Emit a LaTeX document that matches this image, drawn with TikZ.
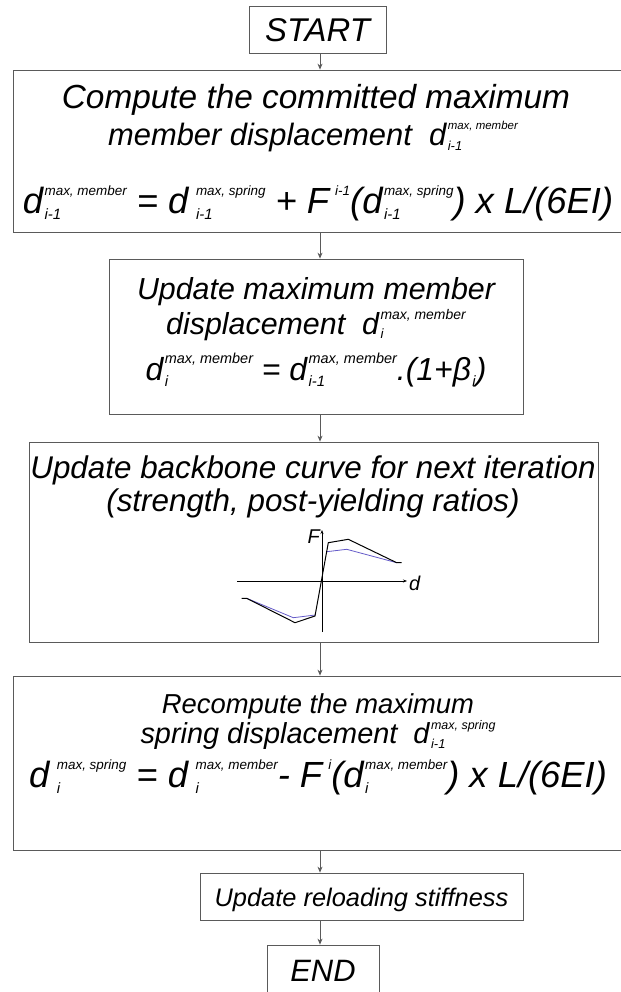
\documentclass[tikz,border=0pt]{standalone}
\usepackage{fontspec}
\setmainfont{Liberation Sans}
\usetikzlibrary{arrows.meta}
\definecolor{boxline}{RGB}{90,90,90}
\definecolor{curveblue}{RGB}{100,90,200}
\def\supf{\fontsize{11}{11}\selectfont}
\def\subf{\fontsize{13}{13}\selectfont}
\def\supr{15bp}
\def\subl{5bp}
\newcommand\setsc[4]{\def\supf{\fontsize{#1}{#1}\selectfont}\def\subf{\fontsize{#2}{#2}\selectfont}\def\supr{#3}\def\subl{#4}}
\newcommand\stk[2]{\leavevmode\hbox{\kern1.5bp\setbox0=\hbox{\supf #1}\setbox2=\hbox{\subf #2}\dimen0=\wd0 \ifdim\wd2>\dimen0 \dimen0=\wd2 \fi\rlap{\raise\supr\box0}\rlap{\lower\subl\box2}\kern\dimen0}}
\newcommand\sps[1]{\raise\supr\hbox{\supf #1}}
\newcommand\fs[1]{\fontsize{#1}{#1}\selectfont\itshape}
\tikzset{
  box/.style={draw=boxline, line width=0.8bp, rectangle, inner sep=0pt},
  txt/.style={anchor=base, inner sep=0pt},
  arr/.style={draw=boxline, line width=0.8bp, -{Stealth[length=6bp,width=5bp]}},
  axis/.style={draw=black, line width=0.7bp, -{Stealth[length=4bp,width=3bp]}},
}
\begin{document}
\begin{tikzpicture}[x=1bp,y=-1bp]
\useasboundingbox (0,0) rectangle (621,992);
\coordinate (col) at (320,0);
% boxes
\node[box, minimum width=137bp, minimum height=47bp] (start) at (317.5,29.5) {};
\node[box, minimum width=610bp, minimum height=162bp] (b1) at (318,151) {};
\node[box, minimum width=414bp, minimum height=155bp] (b2) at (316,336.5) {};
\node[box, minimum width=569bp, minimum height=200bp] (b3) at (313.5,542) {};
\node[box, minimum width=610bp, minimum height=174bp] (b4) at (318,763) {};
\node[box, minimum width=323bp, minimum height=47bp] (b5) at (361.5,896.5) {};
\node[box, minimum width=112bp, minimum height=50bp] (end) at (323,970) {};
% texts
\node[txt, font=\fs{33}] (tstart) at (317.5,41) {START};
\node[txt, font=\fs{33.5}] (t1a) at (316,108) {Compute the committed maximum};
\node[txt, font=\fs{31}] (t1b) at (313,145) {\setsc{11.5}{13}{16bp}{5bp}member displacement\ \ d\stk{max, member}{i-1}};
\node[txt, font=\fs{36.5}] (f1) at (318,213) {\setsc{13.5}{15}{18bp}{6.5bp}d\stk{max, member}{i-1} = d\,\stk{max, spring}{i-1} + F\,\sps{i-1}(d\stk{max, spring}{i-1}) x L/(6EI)};
\node[txt, font=\fs{30.5}] (t2a) at (316,299) {Update maximum member};
\node[txt, font=\fs{30.5}] (t2b) at (316,334) {\setsc{14}{13.5}{15bp}{4bp}displacement\ \ d\stk{max, member}{i}};
\node[txt, font=\fs{32}] (f2) at (316,380) {\setsc{14.5}{15}{17bp}{6bp}d\stk{max, member}{i} = d\stk{max, member}{i-1}.(1+β\stk{}{i})};
\node[txt, font=\fs{31.5}] (t3a) at (313,478) {Update backbone curve for next iteration};
\node[txt, font=\fs{31.5}] (t3b) at (313,511) {(strength, post-yielding ratios)};
\node[txt, font=\fs{27.5}] (t4a) at (318,713) {Recompute the maximum};
\node[txt, font=\fs{29}] (t4b) at (318,743) {\setsc{12.5}{13}{14bp}{5bp}spring displacement\ \ d\stk{max, spring}{i-1}};
\node[txt, font=\fs{36.5}] (f4) at (318,787) {\setsc{13.5}{15}{18bp}{6.5bp}d\,\stk{max, spring}{i} = d\,\stk{max, member}{i}- F\,\sps{i}(d\stk{max, member}{i}) x L/(6EI)};
\node[txt, font=\fs{25.5}] (t5) at (361.5,906) {Update reloading stiffness};
\node[txt, font=\fs{31}] (tend) at (323,981) {END};
% connectors
\draw[arr] (start.south -| col) -- (b1.north -| col);
\draw[arr] (b1.south -| col) -- (b2.north -| col);
\draw[arr] (b2.south -| col) -- (b3.north -| col);
\draw[arr] (b3.south -| col) -- (b4.north -| col);
\draw[arr] (b4.south -| col) -- (b5.north -| col);
\draw[arr] (b5.south -| col) -- (end.north -| col);
% backbone graph
\coordinate (xl) at (237,581);
\coordinate (xr) at (407,581);
\coordinate (yb) at (322,632);
\coordinate (yt) at (322,530);
\draw[axis] (xl) -- (xr);
\draw[axis] (yb) -- (yt);
\node[font=\fs{20}, anchor=east, inner sep=1bp] (lF) at (321,537) {F};
\node[font=\fs{20}, anchor=west, inner sep=1bp] (ld) at (408,583) {d};
\draw[curveblue, line width=0.8bp] (396.7,562.7) -- (346.7,549.3) -- (326.7,551.7);
\draw[curveblue, line width=0.8bp] (246.7,598.3) -- (293.3,617.7) -- (315.2,615);
\draw[black, line width=1bp] (241.7,598.3) -- (246.7,598.3) -- (295,622.7) -- (315,616) -- (328.3,542.7) -- (348.3,539.3) -- (396.7,562.7) -- (401.7,562.7);
\end{tikzpicture}
\end{document}
